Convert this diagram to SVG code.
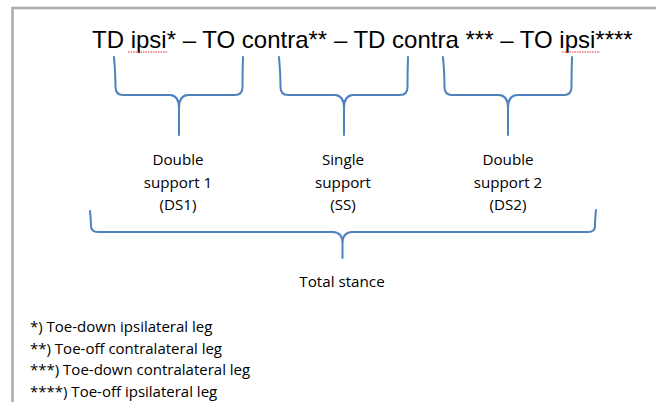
<svg xmlns="http://www.w3.org/2000/svg" width="656" height="403" viewBox="0 0 656 403">
<style>
.frame{fill:none;stroke:#ababab;stroke-width:2.5}
.brace{fill:none;stroke:#4f81bd;stroke-width:2;stroke-linecap:round;stroke-linejoin:round}
.title{font-family:"Liberation Sans",Arial,sans-serif;font-size:24px;fill:#000}
.lbl{font-family:"Open Sans","Noto Sans",sans-serif;font-size:15.2px;fill:#000;text-anchor:middle}
.note{font-family:"Open Sans","Noto Sans",sans-serif;font-size:15px;fill:#000}
.spell{fill:none;stroke:#e03030;stroke-width:1.2;stroke-dasharray:1.5 1}
</style>
<rect width="656" height="403" fill="#fff"/>
<path class="frame" d="M12.5,402 L12.5,8 L656,8"/>
<g id="title">
<text class="title" x="92" y="48">TD ipsi* – TO contra** – TD contra *** – TO ipsi****</text>
<path class="spell" d="M128,52 L167,52 M562,52 L600,52"/>
</g>
<g id="connectors">
<path class="brace" d="M114,57 Q115.5,75 115.5,87 Q115.5,95 123,95 L170,95 Q179,95.5 179,108 L179,135 M179,108 Q179,95.5 188,95 L235,95 Q242.5,95 242.5,87 Q242.5,75 243,57"/>
<path class="brace" d="M279,57 Q280.5,75 280.5,87 Q280.5,95 288,95 L335,95 Q344,95.5 344,108 L344,135 M344,108 Q344,95.5 353,95 L400,95 Q407.5,95 407.5,87 Q407.5,75 408,57"/>
<path class="brace" d="M443,57 Q444.5,75 444.5,87 Q444.5,95 452,95 L499,95 Q508,95.5 508,108 L508,135 M508,108 Q508,95.5 517,95 L564,95 Q571.5,95 571.5,87 Q571.5,75 572,57"/>
<path class="brace" d="M90,211 Q91,220 91,226 Q91,232 98,232 L333,232 Q342.5,232.5 342.5,243 L342.5,258 M342.5,243 Q342.5,232.5 352,232 L588,232 Q595,232 595,226 Q595,220 596,210"/>
</g>
<g id="ds1">
<text class="lbl" x="178" y="165">Double</text>
<text class="lbl" x="178" y="188">support 1</text>
<text class="lbl" x="178" y="210">(DS1)</text>
</g>
<g id="ss">
<text class="lbl" x="343" y="165">Single</text>
<text class="lbl" x="343" y="188">support</text>
<text class="lbl" x="343" y="210">(SS)</text>
</g>
<g id="ds2">
<text class="lbl" x="508" y="165">Double</text>
<text class="lbl" x="508" y="188">support 2</text>
<text class="lbl" x="508" y="210">(DS2)</text>
</g>
<g id="total">
<text class="lbl" x="342" y="287">Total stance</text>
</g>
<g id="notes">
<text class="note" x="30" y="332">*) Toe-down ipsilateral leg</text>
<text class="note" x="30" y="353.5">**) Toe-off contralateral leg</text>
<text class="note" x="30" y="375">***) Toe-down contralateral leg</text>
<text class="note" x="30" y="396.5">****) Toe-off ipsilateral leg</text>
</g>
</svg>
